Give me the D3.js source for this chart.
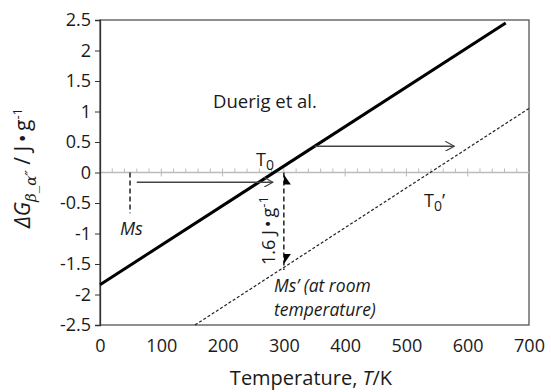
<!DOCTYPE html>
<html>
<head>
<meta charset="utf-8">
<script src="https://cdn.jsdelivr.net/npm/d3@7"></script>
<style>
  body { margin: 0; background: #fff; }
  svg text { font-family: "Open Sans", "Noto Sans", sans-serif; fill: #1a1a1a; }
</style>
</head>
<body>
<svg id="chart" width="551" height="392"></svg>
<script>
(function() {
    'use strict';

    // data
    var xTicks = [0, 100, 200, 300, 400, 500, 600, 700];
    var yTicks = [-2.5, -2, -1.5, -1, -0.5, 0, 0.5, 1, 1.5, 2, 2.5];
    var duerigLine = [[0, -1.84], [662, 2.45]];
    var shiftedLine = [[155, -2.5], [700, 1.05]];
    var hArrows = [[60, 282, -0.16], [350, 578, 0.43]];
    var msPoint = [49, -0.67];
    var roomT = 300;
    var drop = 1.6;

    var svg = d3.select('#chart');
    var x = d3.scaleLinear().domain([0, 700]).range([100, 529]);
    var y = d3.scaleLinear().domain([-2.5, 2.5]).range([325, 20]);

    svg.append('defs').append('marker')
        .attr('id', 'open')
        .attr('viewBox', '0 0 10 10')
        .attr('refX', 9).attr('refY', 5)
        .attr('markerWidth', 10).attr('markerHeight', 10)
        .attr('markerUnits', 'userSpaceOnUse')
        .attr('orient', 'auto')
      .append('path')
        .attr('d', 'M0 0 L9 5 L0 10')
        .style('fill', 'none')
        .style('stroke', '#444')
        .style('stroke-width', 1.2);

    /******************************************************************
        frame and axes
     ******************************************************************/
    svg.append('rect')
        .attr('x', x(0)).attr('y', y(2.5))
        .attr('width', x(700) - x(0)).attr('height', y(-2.5) - y(2.5))
        .style('fill', 'none')
        .style('stroke', '#555')
        .style('stroke-width', 1.3);

    // zero line with minor/major ticks
    var zero = svg.append('g').attr('class', 'zero');
    zero.append('line')
        .attr('x1', x(0)).attr('x2', x(700))
        .attr('y1', y(0)).attr('y2', y(0))
        .style('stroke', '#bbb').style('stroke-width', 1.5);
    zero.selectAll('line.minor')
        .data(d3.range(20, 700, 20))
        .enter().append('line')
        .attr('class', 'minor')
        .attr('x1', function(d) { return x(d); })
        .attr('x2', function(d) { return x(d); })
        .attr('y1', function(d) { return d % 100 === 0 ? y(0) + 4 : y(0); })
        .attr('y2', y(0) - 4)
        .style('stroke', '#bbb').style('stroke-width', 1);

    var yAxis = svg.append('g')
        .attr('transform', 'translate(' + x(0) + ',0)')
        .call(d3.axisLeft(y).tickValues(yTicks).tickSize(5).tickPadding(4)
            .tickFormat(function(d) { return String(d); }));
    yAxis.select('.domain').style('stroke', '#333').style('stroke-width', 1.3);
    yAxis.selectAll('.tick line').style('stroke', '#333');
    yAxis.selectAll('text')
        .style('font-size', '18px')
        .style('font-family', '"Open Sans", sans-serif')
        .attr('fill', '#1a1a1a');

    var xAxis = svg.append('g')
        .attr('transform', 'translate(0,' + y(-2.5) + ')')
        .call(d3.axisBottom(x).tickValues(xTicks).tickSize(0).tickPadding(14));
    xAxis.select('.domain').remove();
    xAxis.selectAll('text')
        .style('font-size', '18px')
        .style('font-family', '"Open Sans", sans-serif')
        .attr('fill', '#1a1a1a');

    /******************************************************************
        lines
     ******************************************************************/
    var line = d3.line()
        .x(function(d) { return x(d[0]); })
        .y(function(d) { return y(d[1]); });

    svg.append('path')
        .datum(shiftedLine)
        .attr('d', line)
        .style('fill', 'none')
        .style('stroke', '#222')
        .style('stroke-width', 1.2)
        .style('stroke-dasharray', '3,2');

    svg.append('path')
        .datum(duerigLine)
        .attr('d', line)
        .style('fill', 'none')
        .style('stroke', '#000')
        .style('stroke-width', 3);

    // horizontal arrows
    svg.selectAll('line.harrow')
        .data(hArrows)
        .enter().append('line')
        .attr('class', 'harrow')
        .attr('x1', function(d) { return x(d[0]); })
        .attr('x2', function(d) { return x(d[1]); })
        .attr('y1', function(d) { return y(d[2]); })
        .attr('y2', function(d) { return y(d[2]); })
        .style('stroke', '#444')
        .style('stroke-width', 1.3)
        .attr('marker-end', 'url(#open)');

    // Ms dashed drop
    svg.append('line')
        .attr('x1', x(msPoint[0])).attr('x2', x(msPoint[0]))
        .attr('y1', y(0)).attr('y2', y(msPoint[1]))
        .style('stroke', '#222')
        .style('stroke-width', 1.5)
        .style('stroke-dasharray', '5,3');

    // 1.6 J/g drop at room temperature, half arrowheads at both ends
    svg.append('line')
        .attr('x1', x(roomT)).attr('x2', x(roomT))
        .attr('y1', y(0)).attr('y2', y(-drop))
        .style('stroke', '#222')
        .style('stroke-width', 1.5)
        .style('stroke-dasharray', '5,3');
    svg.append('path')
        .attr('d', 'M' + x(roomT) + ' ' + (y(0) + 2) + ' l0 10 l7 0 Z')
        .style('fill', '#000');
    svg.append('path')
        .attr('d', 'M' + x(roomT) + ' ' + (y(-drop) - 6) + ' l0 -10 l7 0 Z')
        .style('fill', '#000');

    /******************************************************************
        annotations
     ******************************************************************/
    svg.append('text')
        .attr('x', 213).attr('y', 108)
        .style('font-size', '18.5px')
        .text('Duerig et al.');

    var t0 = svg.append('text')
        .attr('x', 256).attr('y', 166)
        .style('font-size', '18px');
    t0.append('tspan').text('T');
    t0.append('tspan').attr('dy', 4).style('font-size', '14px').text('0');

    var t0p = svg.append('text')
        .attr('x', 424).attr('y', 207)
        .style('font-size', '18px');
    t0p.append('tspan').text('T');
    t0p.append('tspan').attr('dy', 4).style('font-size', '14px').text('0');
    t0p.append('tspan').attr('dy', -4).text('\u2019');

    svg.append('text')
        .attr('x', 120).attr('y', 235)
        .style('font-size', '18px')
        .style('font-style', 'italic')
        .text('Ms');

    svg.append('text')
        .attr('x', 274).attr('y', 292)
        .style('font-size', '17.5px')
        .style('font-style', 'italic')
        .text('Ms\u2019 (at room');
    svg.append('text')
        .attr('x', 274).attr('y', 316)
        .style('font-size', '17.5px')
        .style('font-style', 'italic')
        .text('temperature)');

    var jg = svg.append('text')
        .attr('transform', 'translate(275,265) rotate(-90)')
        .style('font-size', '18px');
    jg.append('tspan').text('1.6 J\u2009\u2022\u2009g');
    jg.append('tspan').attr('dy', -7).style('font-size', '13px').text('-1');

    var xl = svg.append('text')
        .attr('x', 311).attr('y', 385)
        .attr('text-anchor', 'middle')
        .style('font-size', '20px');
    xl.append('tspan').text('Temperature, ');
    xl.append('tspan').style('font-style', 'italic').text('T');
    xl.append('tspan').text('/K');

    var yl = svg.append('text')
        .attr('transform', 'translate(30,168) rotate(-90)')
        .attr('text-anchor', 'middle')
        .style('font-size', '21px');
    yl.append('tspan').style('font-style', 'italic').text('\u0394G');
    yl.append('tspan').attr('dy', 6).style('font-size', '15px')
        .style('font-style', 'italic').style('font-family', '"DejaVu Serif", serif')
        .text('\u03B2_\u03B1\u2033');
    yl.append('tspan').attr('dy', -6).text(' / J\u2009\u2022\u2009g');
    yl.append('tspan').attr('dy', -8).style('font-size', '13px').text('-1');
})();
</script>
</body>
</html>
